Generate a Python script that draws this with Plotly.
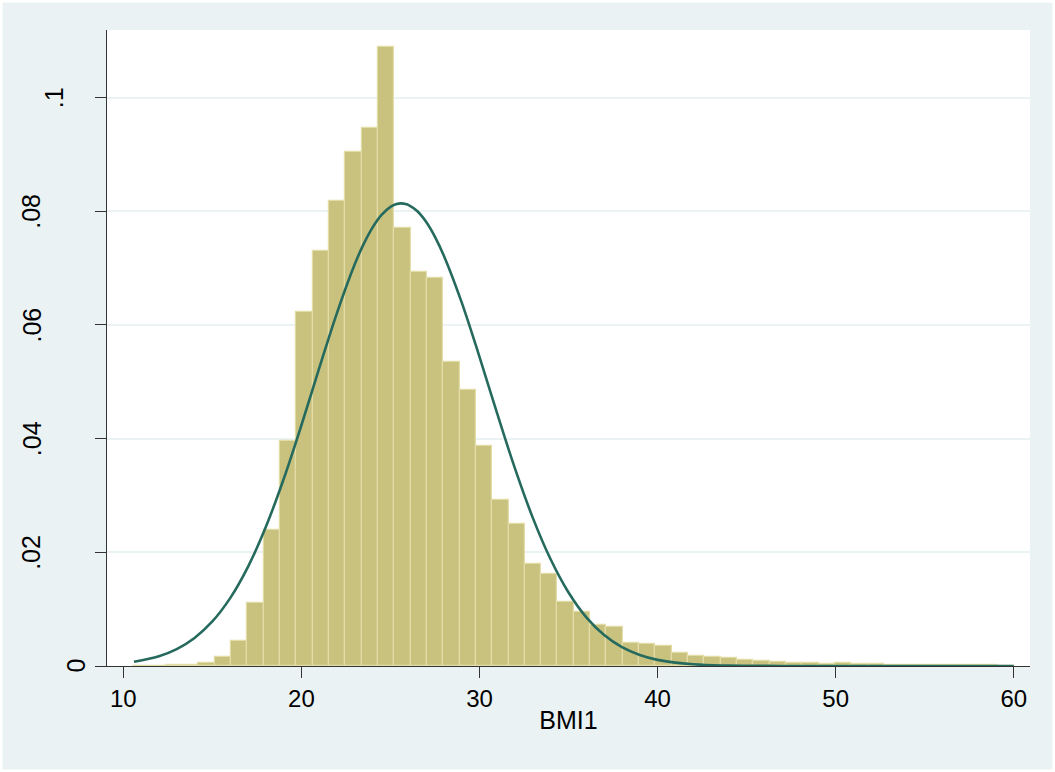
import plotly.graph_objects as go

# ---- data ----
bin_start = 10.55
bin_width = 0.9165
density = [0.00005, 0.00005, 0.0001, 0.0002, 0.0005, 0.0015, 0.0044, 0.0111, 0.0239, 0.0396,
           0.0623, 0.0731, 0.0819, 0.0904, 0.0946, 0.1089, 0.0771, 0.0694, 0.0682, 0.0535,
           0.0486, 0.0387, 0.0292, 0.0250, 0.0179, 0.0161, 0.0113, 0.0095, 0.0073, 0.0068,
           0.0040, 0.0039, 0.0036, 0.0023, 0.0018, 0.0015, 0.00135, 0.0010, 0.0008, 0.00065,
           0.0006, 0.0006, 0.0004, 0.0005, 0.0003, 0.0003, 0.0002, 0.0002, 0.0002, 0.0001,
           0.0001, 0.0001, 0.0001, 0.00005]

curve_x = [10.6, 12, 13, 14, 15, 16, 17, 18, 19, 20, 21, 22, 23, 23.5, 24, 24.5, 25, 25.3,
           25.6, 25.9, 26, 26.5, 27, 27.5, 28, 29,
           30, 31, 32, 33, 34, 35, 36, 37, 38, 39, 40, 42, 44, 47, 50, 55, 60]
curve_y = [0.00075, 0.00173, 0.00298, 0.00494, 0.00784, 0.01194, 0.01745, 0.02445, 0.03286,
           0.04236, 0.05239, 0.06214, 0.07071, 0.07426, 0.07718, 0.07937, 0.08079, 0.08125,
           0.0814, 0.08125, 0.08113, 0.08004, 0.07815, 0.07551,
           0.07219, 0.06398, 0.05439, 0.04436, 0.03469, 0.02602, 0.01873, 0.01293, 0.00856,
           0.00544, 0.00331, 0.00194, 0.00108, 0.0003, 0.00007, 0.00001, 0.0, 0.0, 0.0]

x_ticks = [10, 20, 30, 40, 50, 60]
y_ticks = [0, 0.02, 0.04, 0.06, 0.08, 0.1]
y_ticktext = ["0", ".02", ".04", ".06", ".08", ".1"]
x_title = "BMI1"

centers = [bin_start + (i + 0.5) * bin_width for i in range(len(density))]

W, H = 1055, 772
ml, mr, mt, mb = 107, 25, 30, 106
pw, ph = W - ml - mr, H - mt - mb

fig = go.Figure()
fig.add_trace(go.Bar(
    x=centers, y=density, width=bin_width,
    marker=dict(color="rgb(201,194,127)", line=dict(color="rgb(226,220,166)", width=1.2)),
    hoverinfo="x+y", showlegend=False,
))
fig.add_trace(go.Scatter(
    x=curve_x, y=curve_y, mode="lines",
    line=dict(color="rgb(38,106,94)", width=2.6, shape="spline", smoothing=1.0),
    showlegend=False,
))

font_family = "Arial, 'Liberation Sans', sans-serif"

# Stata-style rotated y labels: each label's centre moves left with its length
annotations = []
for v, t in zip(y_ticks, y_ticktext):
    cx = 97.5 - 22 * len(t)
    annotations.append(dict(
        x=(cx - ml) / pw, xref="paper", y=v, yref="y", text=t, textangle=-90,
        showarrow=False, xanchor="center", yanchor="middle",
        font=dict(family=font_family, size=25, color="black"),
    ))

fig.update_layout(
    width=W, height=H,
    margin=dict(l=ml, r=mr, t=mt, b=mb, autoexpand=False),
    paper_bgcolor="rgb(234,242,243)",
    plot_bgcolor="white",
    bargap=0,
    font=dict(family=font_family, color="black", size=24),
    xaxis=dict(
        range=[9.085, 60.91], tickvals=x_ticks, ticks="outside", ticklen=11,
        tickwidth=1, tickcolor="#333", showline=True, linecolor="#333", linewidth=1,
        showgrid=False, zeroline=False, tickfont=dict(size=24),
        title=dict(text=x_title, font=dict(size=25), standoff=0),
        automargin=False,
    ),
    yaxis=dict(
        range=[0, 0.1119], tickvals=y_ticks, showticklabels=False,
        ticks="outside", ticklen=11, tickwidth=1, tickcolor="#333",
        showline=True, linecolor="#333", linewidth=1,
        showgrid=True, gridcolor="rgb(234,242,243)", gridwidth=1.5, zeroline=False,
        automargin=False,
    ),
    annotations=annotations,
    shapes=[dict(
        type="rect", xref="paper", yref="paper",
        x0=(1 - ml) / pw, x1=(W - 1 - ml) / pw,
        y0=-(H - 1 - mt - ph) / ph, y1=(ph + mt - 1) / ph,
        line=dict(color="white", width=3), fillcolor="rgba(0,0,0,0)", layer="above",
    )],
)

fig.write_html("out.html", config={"displayModeBar": False},
               post_script="document.body.style.margin='0px';document.body.style.overflow='hidden';")
